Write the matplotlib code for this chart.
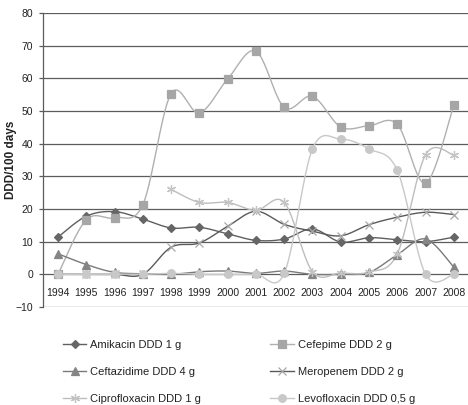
import matplotlib
matplotlib.use("Agg")
import matplotlib.pyplot as plt
import numpy as np
from matplotlib.lines import Line2D

plt.rcParams['font.family'] = ['Liberation Sans', 'DejaVu Sans']

years = np.arange(1994, 2009)

amikacin = [11.4, 17.8, 19.2, 16.9, 14.2, 14.4, 12.4, 10.4, 10.8, 13.9, 9.9, 11.2, 10.6, 10.0, 11.4]
cefepime = [0.0, 16.7, 17.3, 21.3, 55.3, 49.4, 59.8, 68.3, 51.1, 54.5, 45.1, 45.5, 45.9, 27.9, 51.8]
ceftazidime = [6.3, 3.0, 0.6, 0.2, 0.0, 0.8, 1.0, 0.3, 1.0, 0.0, 0.0, 0.6, 6.0, 10.8, 2.2]
meropenem = [0.0, 0.0, 0.0, 0.0, 8.3, 9.6, 14.7, 19.3, 15.3, 13.2, 11.8, 15.2, 17.5, 19.0, 18.3]
ciprofloxacin = [np.nan, np.nan, np.nan, np.nan, 26.0, 22.0, 22.0, 19.6, 22.0, 0.8, 0.4, 0.7, 6.3, 36.6, 36.5]
levofloxacin = [0.0, 0.0, 0.0, 0.0, 0.3, 0.0, 0.0, 0.0, 0.3, 38.4, 41.4, 38.4, 31.8, 0.0, 0.0]

labels = ['Amikacin DDD 1 g', 'Cefepime DDD 2 g', 'Ceftazidime DDD 4 g',
          'Meropenem DDD 2 g', 'Ciprofloxacin DDD 1 g', 'Levofloxacin DDD 0,5 g']


def smooth(x, y, n=24):
    # Excel-like smoothed line (Catmull-Rom bezier), drawn between the points
    x = np.asarray(x, float)
    y = np.asarray(y, float)
    ok = ~np.isnan(y)
    x, y = x[ok], y[ok]
    px, py = [], []
    t = np.linspace(0, 1, n)
    for i in range(len(x) - 1):
        x0, y0 = (x[i - 1], y[i - 1]) if i > 0 else (x[i], y[i])
        x3, y3 = (x[i + 2], y[i + 2]) if i + 2 < len(x) else (x[i + 1], y[i + 1])
        x1, y1, x2, y2 = x[i], y[i], x[i + 1], y[i + 1]
        c1x, c1y = x1 + (x2 - x0) / 6, y1 + (y2 - y0) / 6
        c2x, c2y = x2 - (x3 - x1) / 6, y2 - (y3 - y1) / 6
        bx = (1-t)**3*x1 + 3*(1-t)**2*t*c1x + 3*(1-t)*t**2*c2x + t**3*x2
        by = (1-t)**3*y1 + 3*(1-t)**2*t*c1y + 3*(1-t)*t**2*c2y + t**3*y2
        px.extend(bx)
        py.extend(by)
    return px, py


styles = [
    # line colour, marker, marker colour, marker size
    ('#5f5f5f', 'D', '#666666', 3.8),
    ('#b0b0b0', 's', '#a6a6a6', 5.6),
    ('#7a7a7a', '^', '#858585', 5.2),
    ('#5a5a5a', 'x', '#a8a8a8', 5.5),
    ('#bdbdbd', (6, 2, 0), '#c4c4c4', 6.5),
    ('#c8c8c8', 'o', '#c8c8c8', 5.5),
]
series = [amikacin, cefepime, ceftazidime, meropenem, ciprofloxacin, levofloxacin]

fig = plt.figure(figsize=(4.68, 4.05), dpi=100)
ax = fig.add_axes([43/468, 1 - 307/405, 425/468, 294/405])

handles = []
for vals, (lc, mk, mc, ms), lab in zip(series, styles, labels):
    sx, sy = smooth(years, vals)
    ax.plot(sx, sy, color=lc, lw=1.0, zorder=3)
    ax.plot(years, vals, ls='none', marker=mk, ms=ms, color=mc, mec=mc, mew=0.9, zorder=4)
    handles.append(Line2D([], [], color=lc, lw=1.0, marker=mk, ms=ms, mfc=mc, mec=mc, mew=0.9))

ax.set_xlim(1993.47, 2008.5)
ax.set_ylim(-10, 80)
ax.set_yticks(np.arange(-10, 81, 10))
ax.yaxis.grid(True, color='#5c5c5c', lw=0.9)
ax.set_axisbelow(True)

for s in ['top', 'right']:
    ax.spines[s].set_visible(False)
ax.spines['left'].set_color('#5c5c5c')
ax.spines['left'].set_linewidth(0.9)
ax.spines['bottom'].set_position(('data', 0))
ax.spines['bottom'].set_visible(False)

ax.set_xticks(years)
ax.set_xticklabels([str(y) for y in years])
ax.tick_params(axis='x', length=0, pad=9.5, labelsize=7.5, colors='#222222')
ax.tick_params(axis='y', length=3, width=0.9, pad=4, labelsize=7.5,
               colors='#5c5c5c', labelcolor='#222222')

fig.text(11/468, 1 - 160/405, 'DDD/100 days', rotation=90, ha='center', va='center',
         fontsize=8.5, fontweight='bold', color='#222222')

order = [0, 2, 4, 1, 3, 5]
leg = fig.legend([handles[i] for i in order], [labels[i] for i in order],
                 loc='upper left', bbox_to_anchor=(57/468, 1 - 334/405), ncol=2,
                 frameon=False, fontsize=8, handlelength=2.15, handletextpad=0.35,
                 columnspacing=6.2, labelspacing=1.55, borderpad=0, numpoints=1)
for t in leg.get_texts():
    t.set_color('#222222')

fig.savefig('out.png', dpi=100)
